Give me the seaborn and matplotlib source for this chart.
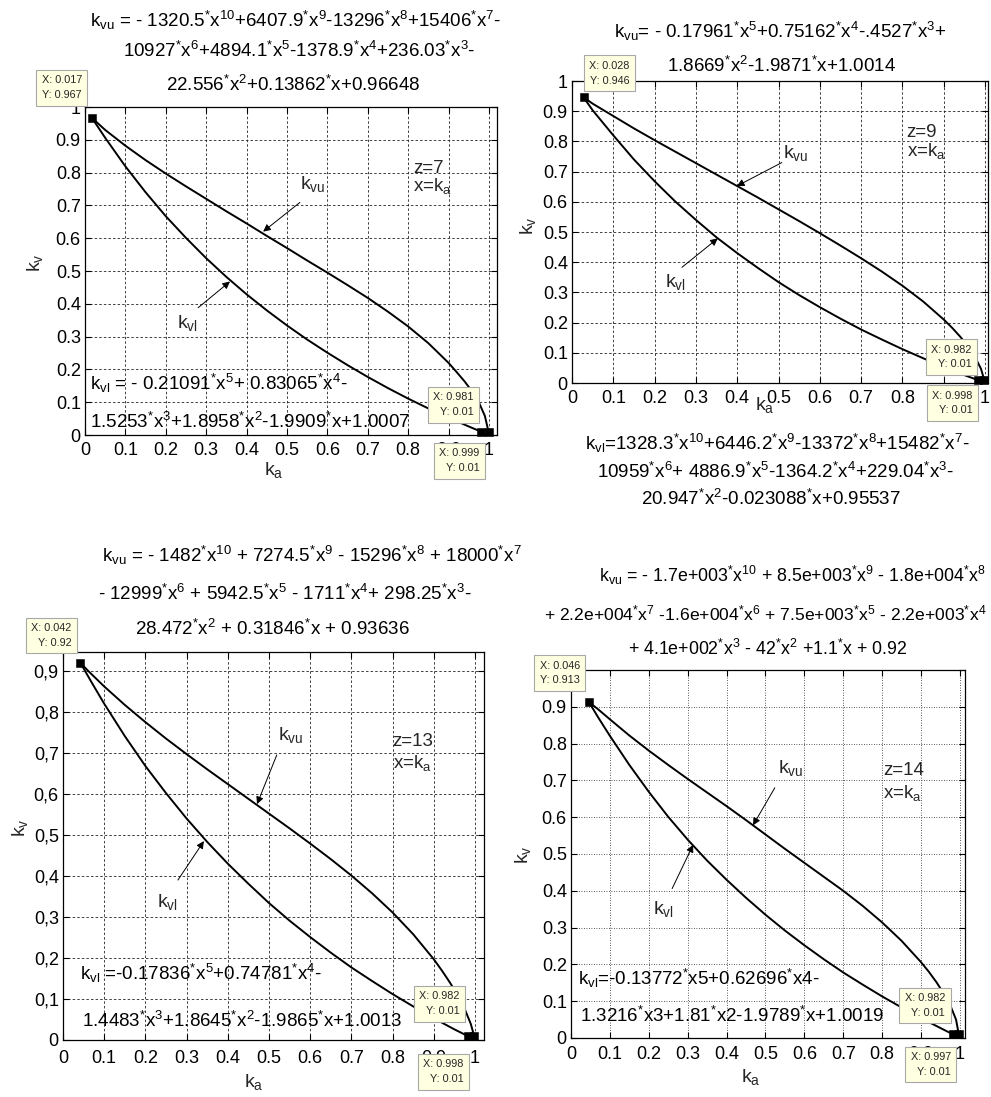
import numpy as np
import pandas as pd
import matplotlib
matplotlib.use("Agg")
import matplotlib.pyplot as plt
from matplotlib.ticker import FuncFormatter
import seaborn as sns

# ---------------- curve data (k_a, k_v) ----------------
# z = 7
UP_KA_Z7 = [0.017, 0.05, 0.1, 0.15, 0.2, 0.25, 0.3, 0.35, 0.4, 0.45, 0.5, 0.55, 0.6,
            0.65, 0.7, 0.75, 0.8, 0.85, 0.9, 0.92, 0.94, 0.96, 0.975, 0.99, 0.999]
UP_KV_Z7 = [0.967, 0.930, 0.882, 0.838, 0.797, 0.758, 0.720, 0.682, 0.645, 0.607, 0.570,
            0.532, 0.495, 0.457, 0.418, 0.376, 0.331, 0.280, 0.220, 0.192, 0.163, 0.130,
            0.100, 0.058, 0.010]
LO_KA_Z7 = [0.017, 0.05, 0.1, 0.15, 0.2, 0.25, 0.3, 0.35, 0.4, 0.45, 0.5, 0.55, 0.6,
            0.65, 0.7, 0.75, 0.8, 0.85, 0.9, 0.95, 0.981]
LO_KV_Z7 = [0.967, 0.906, 0.819, 0.740, 0.667, 0.601, 0.539, 0.482, 0.429, 0.380, 0.334,
            0.291, 0.251, 0.213, 0.177, 0.143, 0.111, 0.081, 0.053, 0.026, 0.010]
TIP_KA_Z7 = [0.017, 0.981, 0.999]
TIP_KV_Z7 = [0.967, 0.01, 0.01]

# z = 9
UP_KA_Z9 = [0.028, 0.05, 0.1, 0.15, 0.2, 0.25, 0.3, 0.35, 0.4, 0.45, 0.5, 0.55, 0.6,
            0.65, 0.7, 0.75, 0.8, 0.85, 0.9, 0.92, 0.94, 0.96, 0.975, 0.99, 0.998]
UP_KV_Z9 = [0.946, 0.925, 0.884, 0.843, 0.804, 0.766, 0.728, 0.690, 0.652, 0.614, 0.575,
            0.536, 0.496, 0.455, 0.413, 0.369, 0.322, 0.270, 0.210, 0.183, 0.153, 0.119,
            0.088, 0.047, 0.010]
LO_KA_Z9 = [0.028, 0.05, 0.1, 0.15, 0.2, 0.25, 0.3, 0.35, 0.4, 0.45, 0.5, 0.55, 0.6,
            0.65, 0.7, 0.75, 0.8, 0.85, 0.9, 0.95, 0.982]
LO_KV_Z9 = [0.946, 0.903, 0.820, 0.740, 0.668, 0.601, 0.540, 0.482, 0.430, 0.381, 0.334,
            0.291, 0.251, 0.213, 0.177, 0.144, 0.112, 0.082, 0.053, 0.026, 0.010]
TIP_KA_Z9 = [0.028, 0.982, 0.998]
TIP_KV_Z9 = [0.946, 0.01, 0.01]

# z = 13
UP_KA_Z13 = [0.042, 0.06, 0.1, 0.15, 0.2, 0.25, 0.3, 0.35, 0.4, 0.45, 0.5, 0.55, 0.6,
             0.65, 0.7, 0.75, 0.8, 0.85, 0.9, 0.92, 0.94, 0.96, 0.975, 0.99, 0.998]
UP_KV_Z13 = [0.920, 0.901, 0.862, 0.817, 0.775, 0.735, 0.697, 0.660, 0.624, 0.588, 0.552,
             0.516, 0.479, 0.441, 0.401, 0.358, 0.311, 0.258, 0.197, 0.169, 0.139, 0.105,
             0.076, 0.039, 0.010]
LO_KA_Z13 = [0.042, 0.07, 0.1, 0.15, 0.2, 0.25, 0.3, 0.35, 0.4, 0.45, 0.5, 0.55, 0.6,
             0.65, 0.7, 0.75, 0.8, 0.85, 0.9, 0.95, 0.982]
LO_KV_Z13 = [0.920, 0.871, 0.820, 0.741, 0.668, 0.602, 0.540, 0.483, 0.430, 0.381, 0.334,
             0.291, 0.251, 0.213, 0.177, 0.144, 0.112, 0.082, 0.053, 0.026, 0.010]
TIP_KA_Z13 = [0.042, 0.982, 0.998]
TIP_KV_Z13 = [0.92, 0.01, 0.01]

# z = 14
UP_KA_Z14 = [0.046, 0.07, 0.1, 0.15, 0.2, 0.25, 0.3, 0.35, 0.4, 0.45, 0.5, 0.55, 0.6,
             0.65, 0.7, 0.75, 0.8, 0.85, 0.9, 0.92, 0.94, 0.96, 0.975, 0.99, 0.997]
UP_KV_Z14 = [0.913, 0.893, 0.866, 0.822, 0.781, 0.742, 0.704, 0.667, 0.630, 0.592, 0.553,
             0.514, 0.476, 0.438, 0.400, 0.359, 0.314, 0.264, 0.206, 0.180, 0.151, 0.118,
             0.089, 0.050, 0.010]
LO_KA_Z14 = [0.046, 0.07, 0.1, 0.15, 0.2, 0.25, 0.3, 0.35, 0.4, 0.45, 0.5, 0.55, 0.6,
             0.65, 0.7, 0.75, 0.8, 0.85, 0.9, 0.95, 0.982]
LO_KV_Z14 = [0.913, 0.871, 0.821, 0.742, 0.669, 0.601, 0.539, 0.482, 0.430, 0.381, 0.335,
             0.292, 0.252, 0.214, 0.178, 0.145, 0.113, 0.083, 0.054, 0.027, 0.010]
TIP_KA_Z14 = [0.046, 0.982, 0.997]
TIP_KV_Z14 = [0.913, 0.01, 0.01]

X_TICKS = [0, 0.1, 0.2, 0.3, 0.4, 0.5, 0.6, 0.7, 0.8, 0.9, 1.0]
Y_TICKS = [0, 0.1, 0.2, 0.3, 0.4, 0.5, 0.6, 0.7, 0.8, 0.9, 1.0]

S = "$^{*}$"

# ---------------- style ----------------
sns.set_style("ticks")
plt.rcParams["font.family"] = ["Liberation Sans", "DejaVu Sans"]
plt.rcParams["mathtext.default"] = "regular"
plt.rcParams["axes.unicode_minus"] = False

W, H = 991, 1097
fig = plt.figure(figsize=(W / 100, H / 100), dpi=100)
fig.patch.set_facecolor("white")


def fx(px):
    return px / W


def fy(py):
    return 1 - py / H


def ftext(s, x, y, ha="center", size=13.5):
    fig.text(fx(x), fy(y), s, ha=ha, va="baseline", fontsize=size, color="black")


def panel(box, up, lo, tips, tip_offsets, xmax, ymax, comma=False, dotted=False,
          z_label="", z_pos=(0.8, 0.8), x_pos=(0.8, 0.74),
          vu_lab=(0.5, 0.75), vu_arrow=((0.5, 0.7), (0.44, 0.62)),
          vl_lab=(0.22, 0.33), vl_arrow=((0.28, 0.39), (0.36, 0.47)),
          xlab=(0.46, -0.1), ylab=(-0.12, 0.52), xpad=5):
    left, top, right, bottom = box
    ax = fig.add_axes([fx(left), fy(bottom), (right - left) / W, (bottom - top) / H])
    ax.set_facecolor("white")

    curves = pd.concat([
        pd.DataFrame({"ka": up[0], "kv": up[1], "curve": "vu"}),
        pd.DataFrame({"ka": lo[0], "kv": lo[1], "curve": "vl"}),
    ], ignore_index=True)
    sns.lineplot(data=curves, x="ka", y="kv", units="curve", estimator=None, sort=False,
                 color="black", lw=1.4, ax=ax, zorder=4)

    tip_df = pd.DataFrame({"ka": tips[0], "kv": tips[1]})
    sns.scatterplot(data=tip_df, x="ka", y="kv", marker="s", s=30, color="black",
                    edgecolor="black", linewidth=0.4, ax=ax, zorder=8, clip_on=False)
    for x, y, (dx, dy) in zip(tips[0], tips[1], tip_offsets):
        ax.annotate(f"X: {x:g}\nY: {y:g}", xy=(x, y), xytext=(dx, dy),
                    textcoords="offset pixels", ha="center", va="center",
                    multialignment="right", fontsize=7.8, linespacing=1.6,
                    bbox=dict(boxstyle="square,pad=0.5", fc="#ffffe1", ec="#a8a8a8", lw=0.8),
                    annotation_clip=False, clip_on=False, zorder=30)

    ax.set_xlim(0, xmax)
    ax.set_ylim(0, ymax)
    ax.set_xticks(X_TICKS)
    ax.set_yticks([t for t in Y_TICKS if t <= ymax + 1e-9])
    ax.xaxis.set_major_formatter(FuncFormatter(lambda v, p: f"{v:g}"))
    if comma:
        ax.yaxis.set_major_formatter(FuncFormatter(lambda v, p: f"{v:g}".replace(".", ",")))
    else:
        ax.yaxis.set_major_formatter(FuncFormatter(lambda v, p: f"{v:g}"))
    ax.tick_params(direction="in", length=4, width=0.8, top=True, right=True,
                   labelsize=13, colors="black")
    ax.tick_params(axis="x", pad=xpad)
    ax.tick_params(axis="y", pad=3)
    for sp in ax.spines.values():
        sp.set_visible(True)
        sp.set_color("black")
        sp.set_linewidth(0.9)

    ls = (0, (1, 2)) if dotted else (0, (3, 2.5))
    ax.grid(True, color="#222222", lw=0.6, linestyle=ls)

    ax.set_xlabel("k$_a$", fontsize=14)
    ax.xaxis.label.set_verticalalignment("center")
    ax.xaxis.set_label_coords(*xlab)
    ax.set_ylabel("k$_v$", fontsize=14)
    ax.yaxis.label.set_verticalalignment("center")
    ax.yaxis.set_label_coords(*ylab)

    ax.text(z_pos[0], z_pos[1], z_label, fontsize=13.5, ha="left", va="baseline", zorder=9)
    ax.text(x_pos[0], x_pos[1], "x=k$_a$", fontsize=13.5, ha="left", va="baseline", zorder=9)

    ax.text(vu_lab[0], vu_lab[1], "k$_{vu}$", fontsize=14, ha="left", va="baseline", zorder=9)
    ax.text(vl_lab[0], vl_lab[1], "k$_{vl}$", fontsize=14, ha="left", va="baseline", zorder=9)
    arrow = dict(arrowstyle="-|>", color="black", lw=0.7, mutation_scale=11,
                 shrinkA=0, shrinkB=0)
    ax.annotate("", xy=vu_arrow[1], xytext=vu_arrow[0], arrowprops=arrow, zorder=9)
    ax.annotate("", xy=vl_arrow[1], xytext=vl_arrow[0], arrowprops=arrow, zorder=9)
    return ax


# ---------------- z = 7 ----------------
panel((85, 107, 497, 435), (UP_KA_Z7, UP_KV_Z7), (LO_KA_Z7, LO_KV_Z7),
      (TIP_KA_Z7, TIP_KV_Z7), [(-30, 30), (-28, 27), (-29, -29)],
      xmax=1.02, ymax=1.0, z_label="z=7", z_pos=(0.812, 0.80), x_pos=(0.812, 0.743),
      vu_lab=(0.532, 0.749), vu_arrow=((0.532, 0.709), (0.441, 0.62)),
      vl_lab=(0.228, 0.327), vl_arrow=((0.28, 0.388), (0.359, 0.468)),
      xlab=(0.459, -0.107), ylab=(-0.121, 0.524))
ftext("k$_{vu}$ = - 1320.5" + S + "x$^{10}$+6407.9" + S + "x$^{9}$-13296" + S + "x$^{8}$+15406"
      + S + "x$^{7}$-", 296, 27)
ftext("10927" + S + "x$^{6}$+4894.1" + S + "x$^{5}$-1378.9" + S + "x$^{4}$+236.03" + S
      + "x$^{3}$-", 299, 57)
ftext("22.556" + S + "x$^{2}$+0.13862" + S + "x+0.96648", 293, 91)
ftext("k$_{vl}$ = - 0.21091" + S + "x$^{5}$+ 0.83065" + S + "x$^{4}$-", 90, 390, ha="left")
ftext("1.5253" + S + "x$^{3}$+1.8958" + S + "x$^{2}$-1.9909" + S + "x+1.0007", 90, 428, ha="left")

# ---------------- z = 9 ----------------
panel((572, 81, 988, 383), (UP_KA_Z9, UP_KV_Z9), (LO_KA_Z9, LO_KV_Z9),
      (TIP_KA_Z9, TIP_KV_Z9), [(26, 24), (-26, 23), (-32, -23)],
      xmax=1.007, ymax=1.0, z_label="z=9", z_pos=(0.81, 0.813), x_pos=(0.81, 0.753),
      vu_lab=(0.511, 0.744), vu_arrow=((0.508, 0.73), (0.399, 0.652)),
      vl_lab=(0.225, 0.317), vl_arrow=((0.266, 0.383), (0.353, 0.479)),
      xlab=(0.464, -0.073), ylab=(-0.106, 0.52))
ftext("k$_{vu}$= - 0.17961" + S + "x$^{5}$+0.75162" + S + "x$^{4}$-.4527" + S + "x$^{3}$+", 780, 38)
ftext("1.8669" + S + "x$^{2}$-1.9871" + S + "x+1.0014", 781, 72)
ftext("k$_{vl}$=1328.3" + S + "x$^{10}$+6446.2" + S + "x$^{9}$-13372" + S + "x$^{8}$+15482" + S
      + "x$^{7}$-", 777, 450)
ftext("10959" + S + "x$^{6}$+ 4886.9" + S + "x$^{5}$-1364.2" + S + "x$^{4}$+229.04" + S
      + "x$^{3}$-", 776, 478)
ftext("20.947" + S + "x$^{2}$-0.023088" + S + "x+0.95537", 771, 505)

# ---------------- z = 13 ----------------
panel((63, 652, 484, 1040), (UP_KA_Z13, UP_KV_Z13), (LO_KA_Z13, LO_KV_Z13),
      (TIP_KA_Z13, TIP_KV_Z13), [(-29, 27), (-28, 32), (-31, -36)],
      xmax=1.022, ymax=0.946, comma=True, z_label="z=13", z_pos=(0.80, 0.717),
      x_pos=(0.80, 0.663),
      vu_lab=(0.522, 0.732), vu_arrow=((0.519, 0.695), (0.471, 0.575)),
      vl_lab=(0.228, 0.324), vl_arrow=((0.279, 0.39), (0.342, 0.485)),
      xlab=(0.454, -0.108), ylab=(-0.102, 0.546), xpad=7)
ftext("k$_{vu}$ = - 1482" + S + "x$^{10}$ + 7274.5" + S + "x$^{9}$ - 15296" + S
      + "x$^{8}$ + 18000" + S + "x$^{7}$", 312, 562)
ftext("- 12999" + S + "x$^{6}$ + 5942.5" + S + "x$^{5}$ - 1711" + S + "x$^{4}$+ 298.25" + S
      + "x$^{3}$-", 285, 600)
ftext("28.472" + S + "x$^{2}$ + 0.31846" + S + "x + 0.93636", 272, 635)
ftext("k$_{vl}$ =-0.17836" + S + "x$^{5}$+0.74781" + S + "x$^{4}$-", 80, 980, ha="left")
ftext("1.4483" + S + "x$^{3}$+1.8645" + S + "x$^{2}$-1.9865" + S + "x+1.0013", 82, 1027, ha="left")

# ---------------- z = 14 ----------------
panel((571, 670, 965, 1038), (UP_KA_Z14, UP_KV_Z14), (LO_KA_Z14, LO_KV_Z14),
      (TIP_KA_Z14, TIP_KV_Z14), [(-29, 29), (-28, 29), (-28, -30)],
      xmax=1.013, ymax=1.0, dotted=True, z_label="z=14", z_pos=(0.802, 0.715),
      x_pos=(0.802, 0.653),
      vu_lab=(0.532, 0.721), vu_arrow=((0.524, 0.68), (0.468, 0.578)),
      vl_lab=(0.211, 0.338), vl_arrow=((0.26, 0.406), (0.314, 0.525)),
      xlab=(0.457, -0.106), ylab=(-0.122, 0.497), xpad=6)
ftext("k$_{vu}$ = - 1.7e+003" + S + "x$^{10}$ + 8.5e+003" + S + "x$^{9}$ - 1.8e+004" + S
      + "x$^{8}$", 793, 582, size=12.8)
ftext("+ 2.2e+004" + S + "x$^{7}$ -1.6e+004" + S + "x$^{6}$ + 7.5e+003" + S
      + "x$^{5}$ - 2.2e+003" + S + "x$^{4}$", 765, 620, size=12.6)
ftext("+ 4.1e+002" + S + "x$^{3}$ - 42" + S + "x$^{2}$ +1.1" + S + "x + 0.92", 768, 655, size=12.8)
ftext("k$_{vl}$=-0.13772" + S + "x5+0.62696" + S + "x4-", 578, 985, ha="left")
ftext("1.3216" + S + "x3+1.81" + S + "x2-1.9789" + S + "x+1.0019", 580, 1022, ha="left")

fig.savefig("out.png", dpi=100, facecolor="white")
